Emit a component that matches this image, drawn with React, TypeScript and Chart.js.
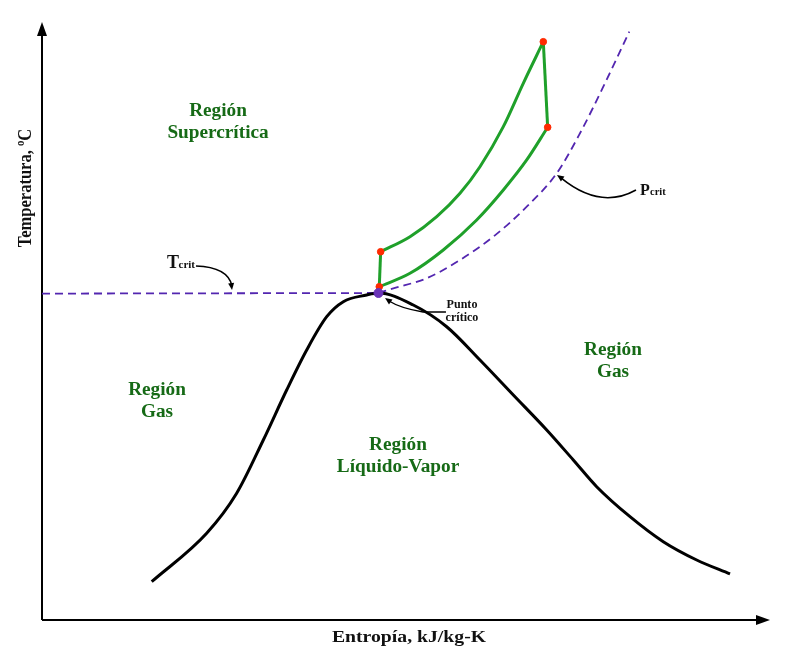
import React, { useEffect, useRef } from "react";
import { Chart, registerables } from "chart.js";

Chart.register(...registerables);

// ---- Data (entropy units 0..10, temperature units 0..100) ----
// Saturation dome
const domeEntropy = [1.507, 2.262, 2.674, 3.04, 3.361, 3.636, 3.911, 4.139, 4.46, 4.622, 5.1, 5.559, 6.016, 6.474, 6.933, 7.298, 7.619, 8.077, 8.534, 8.993, 9.451];
const domeTemp = [6.38, 14.45, 21.12, 30.0, 38.33, 45.0, 50.55, 53.05, 54.17, 54.5, 52.5, 48.88, 43.33, 37.5, 31.67, 26.67, 22.22, 17.22, 13.05, 10.0, 7.67];

// Critical point
const critEntropy = [4.622];
const critTemp = [54.5];

// Cycle states A, B, C, D
const stateEntropy = [4.633, 4.652, 6.886, 6.946];
const stateTemp = [55.55, 61.38, 96.38, 82.12];

// Upper green curve B -> C
const upperEntropy = [4.652, 5.055, 5.422, 5.742, 6.016, 6.337, 6.611, 6.886];
const upperTemp = [61.38, 63.88, 67.22, 71.12, 75.55, 82.22, 89.45, 96.38];

// Lower green curve A -> D
const lowerEntropy = [4.633, 5.055, 5.512, 5.971, 6.337, 6.658, 6.946];
const lowerTemp = [55.55, 57.78, 61.67, 66.67, 71.67, 76.67, 82.12];

// Critical isotherm (Tcrit)
const tcritEntropy = [0, 4.622];
const tcritTemp = [54.4, 54.5];

// Critical isobar (Pcrit)
const pcritEntropy = [4.622, 4.826, 5.284, 5.742, 6.199, 6.658, 7.07, 7.39, 7.71, 8.067];
const pcritTemp = [54.5, 55.28, 56.95, 60.0, 63.88, 68.88, 74.45, 81.12, 88.88, 98.05];

// Region labels
const regionLines = [
  ["Región", "Supercrítica"],
  ["Región", "Gas"],
  ["Región", "Líquido-Vapor"],
  ["Región", "Gas"],
];
const regionEntropy = [2.418, 1.58, 4.89, 7.843];
const regionTemp = [84.83, 38.33, 29.17, 45.0];

const xTitle = "Entropía, kJ/kg-K";
const yTitle = "Temperatura, ºC";

const zip = (xs: number[], ys: number[]) => xs.map((x, i) => ({ x, y: ys[i] }));

const FONT = '"Liberation Serif", "Times New Roman", serif';
const TEXT_GREEN = "#166a16";
const LINE_GREEN = "#1fa02a";
const RED = "#ff2a00";
const PURPLE = "#5326b0";

function drawText(ctx: CanvasRenderingContext2D, s: string, x: number, y: number, size: number, color: string, sx = 1.15, align: CanvasTextAlign = "center", baseline: CanvasTextBaseline = "middle") {
  ctx.save();
  ctx.translate(x, y);
  ctx.scale(sx, 1);
  ctx.font = `bold ${size}px ${FONT}`;
  ctx.fillStyle = color;
  ctx.textAlign = align;
  ctx.textBaseline = baseline;
  ctx.fillText(s, 0, 0);
  ctx.restore();
}

function arrowHead(ctx: CanvasRenderingContext2D, tipX: number, tipY: number, fromX: number, fromY: number, len: number, half: number) {
  const a = Math.atan2(tipY - fromY, tipX - fromX);
  ctx.beginPath();
  ctx.moveTo(tipX, tipY);
  ctx.lineTo(tipX - len * Math.cos(a) + half * Math.sin(a), tipY - len * Math.sin(a) - half * Math.cos(a));
  ctx.lineTo(tipX - len * Math.cos(a) - half * Math.sin(a), tipY - len * Math.sin(a) + half * Math.cos(a));
  ctx.closePath();
  ctx.fill();
}

const decor = {
  id: "decor",
  beforeDatasetsDraw(chart: any) {
    const ctx = chart.ctx as CanvasRenderingContext2D;
    const ca = chart.chartArea;
    const X = (v: number) => chart.scales.x.getPixelForValue(v);
    const Y = (v: number) => chart.scales.y.getPixelForValue(v);
    const ox = X(0);
    const oy = Y(0);
    ctx.save();
    ctx.strokeStyle = "#000";
    ctx.fillStyle = "#000";
    ctx.lineWidth = 2;
    ctx.beginPath();
    ctx.moveTo(ox, oy);
    ctx.lineTo(ox, ca.top + 12);
    ctx.stroke();
    arrowHead(ctx, ox, ca.top + 2, ox, oy, 14, 5);
    ctx.beginPath();
    ctx.moveTo(ox, oy);
    ctx.lineTo(ca.right - 12, oy);
    ctx.stroke();
    arrowHead(ctx, ca.right, oy, ox, oy, 14, 5);
    ctx.restore();
  },
  afterDatasetsDraw(chart: any) {
    const ctx = chart.ctx as CanvasRenderingContext2D;
    const ca = chart.chartArea;
    const X = (v: number) => chart.scales.x.getPixelForValue(v);
    const Y = (v: number) => chart.scales.y.getPixelForValue(v);

    // Region labels
    regionLines.forEach((lines, i) => {
      const cx = X(regionEntropy[i]);
      const cy = Y(regionTemp[i]);
      lines.forEach((s, j) => drawText(ctx, s, cx, cy + j * 22, 18, TEXT_GREEN, 1.07));
    });

    // Axis titles
    drawText(ctx, xTitle, (ca.left + ca.right) / 2 + 3, ca.bottom + 18, 17, "#111", 1.16);
    ctx.save();
    ctx.translate(ca.left - 16, Y(72));
    ctx.scale(1.15, 1);
    ctx.rotate(-Math.PI / 2);
    ctx.font = `bold 16.5px ${FONT}`;
    ctx.fillStyle = "#111";
    ctx.textAlign = "center";
    ctx.textBaseline = "middle";
    ctx.fillText(yTitle, 0, 0);
    ctx.restore();

    ctx.save();
    ctx.strokeStyle = "#000";
    ctx.fillStyle = "#000";
    ctx.lineWidth = 1.6;

    // Tcrit label + arrow
    drawText(ctx, "T", X(1.717), Y(58.67), 18, "#111", 1.0, "left", "alphabetic");
    drawText(ctx, "crit", X(1.717) + 11.5, Y(58.67), 11, "#111", 1.0, "left", "alphabetic");
    {
      const sx = X(2.115), sy = Y(59.0), cx = X(2.555), cy = Y(58.83), ex = X(2.61), ey = Y(55.0);
      ctx.beginPath();
      ctx.moveTo(sx, sy);
      ctx.quadraticCurveTo(cx, cy, ex, ey - 4);
      ctx.stroke();
      arrowHead(ctx, ex, ey, ex - 1, ey - 8, 7, 3);
    }

    // Pcrit label + arrow
    drawText(ctx, "P", X(8.214), Y(70.83), 16, "#111", 1.0, "left", "alphabetic");
    drawText(ctx, "crit", X(8.214) + 10, Y(70.83), 10.5, "#111", 1.0, "left", "alphabetic");
    {
      const sx = X(8.159), sy = Y(71.67), cx = X(7.665), cy = Y(68.33), ex = X(7.074), ey = Y(74.17);
      ctx.beginPath();
      ctx.moveTo(sx, sy);
      ctx.quadraticCurveTo(cx, cy, ex + 4, ey + 3);
      ctx.stroke();
      arrowHead(ctx, ex, ey, ex + 7, ey + 5, 7, 3);
    }

    // Punto crítico label + arrow
    drawText(ctx, "Punto", X(5.769), Y(52.5), 11.5, "#111", 1.05);
    drawText(ctx, "crítico", X(5.769), Y(50.33), 11.5, "#111", 1.05);
    {
      const sx = X(5.549), sy = Y(51.33), mx = X(5.234), my = Y(51.33), cx = X(4.918), cy = Y(52.0), ex = X(4.712), ey = Y(53.67);
      ctx.lineWidth = 1.4;
      ctx.beginPath();
      ctx.moveTo(sx, sy);
      ctx.lineTo(mx, my);
      ctx.quadraticCurveTo(cx, cy, ex + 4, ey + 3);
      ctx.stroke();
      arrowHead(ctx, ex, ey, ex + 7, ey + 5, 7, 3);
    }
    ctx.restore();
  },
};

export default function App() {
  const ref = useRef<HTMLCanvasElement | null>(null);

  useEffect(() => {
    if (!ref.current) return;
    const line = (xs: number[], ys: number[], color: string, width: number, smooth: boolean, dash: number[] = []) => ({
      data: zip(xs, ys),
      showLine: true,
      borderColor: color,
      borderWidth: width,
      borderDash: dash,
      pointRadius: 0,
      tension: smooth ? 0.4 : 0,
      cubicInterpolationMode: smooth ? "monotone" : "default",
      fill: false,
    });
    const chart = new Chart(ref.current, {
      type: "scatter",
      data: {
        datasets: [
          { data: zip(critEntropy, critTemp), backgroundColor: "#6a34b8", borderColor: "#6a34b8", pointRadius: 4.5, showLine: false } as any,
          { data: zip(stateEntropy, stateTemp), backgroundColor: RED, borderColor: RED, pointRadius: 3.3, showLine: false } as any,
          line(upperEntropy, upperTemp, LINE_GREEN, 3, true) as any,
          line(lowerEntropy, lowerTemp, LINE_GREEN, 3, true) as any,
          line([stateEntropy[0], stateEntropy[1]], [stateTemp[0], stateTemp[1]], LINE_GREEN, 3, false) as any,
          line([stateEntropy[2], stateEntropy[3]], [stateTemp[2], stateTemp[3]], LINE_GREEN, 3, false) as any,
          line(domeEntropy, domeTemp, "#000", 3, true) as any,
          line(tcritEntropy, tcritTemp, PURPLE, 1.8, false, [8, 5]) as any,
          line(pcritEntropy, pcritTemp, PURPLE, 1.8, true, [8, 5]) as any,
        ],
      },
      options: {
        animation: false,
        responsive: false,
        devicePixelRatio: 1,
        layout: { padding: { left: 42, right: 30, top: 20, bottom: 43 } },
        plugins: { legend: { display: false }, tooltip: { enabled: false } },
        events: [],
        scales: {
          x: { type: "linear", min: 0, max: 10, display: false },
          y: { type: "linear", min: 0, max: 100, display: false },
        },
      },
      plugins: [decor],
    });
    return () => chart.destroy();
  }, []);

  return (
    <div style={{ position: "fixed", left: 0, top: 0, width: 800, height: 663, background: "#fff" }}>
      <canvas ref={ref} width={800} height={663} style={{ display: "block" }} />
    </div>
  );
}
